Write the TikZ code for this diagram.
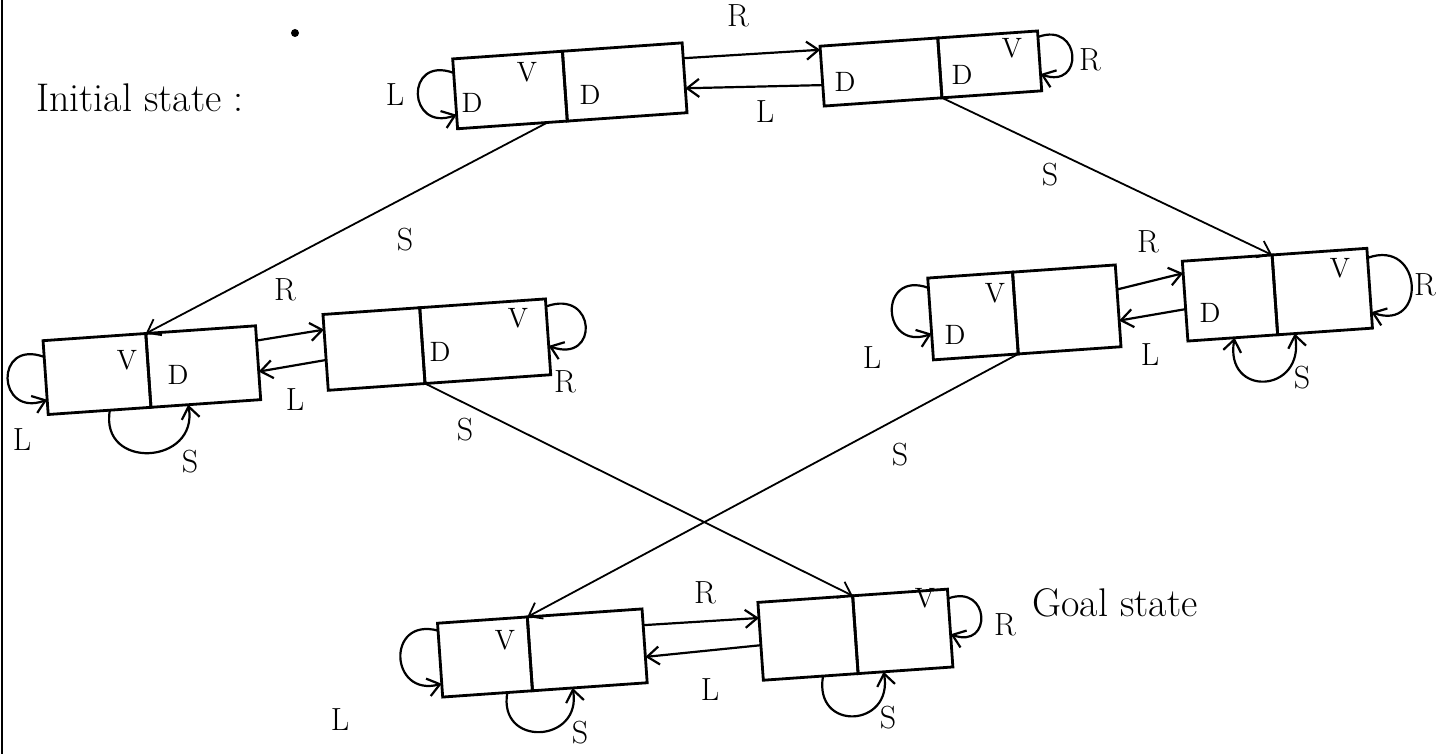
\documentclass[tikz,border=0pt]{standalone}
\usetikzlibrary{arrows.meta,calc}

\begin{document}
\begin{tikzpicture}[x=0.5pt,y=-0.5pt,
  cell/.style={draw, rectangle, line width=1.4pt, minimum height=37pt, rotate=4, inner sep=0pt, outer sep=0pt},
  arr/.style={line width=1.1pt, -{Straight Barb[length=6pt,width=9pt]}},
  both/.style={line width=1.1pt, {Straight Barb[length=6pt,width=9pt]}-{Straight Barb[length=6pt,width=9pt]}},
  tag/.style={font=\fontsize{14}{14}\selectfont},
  lbl/.style={font=\fontsize{16}{16}\selectfont},
  title/.style={font=\fontsize{20}{20}\selectfont}]

\useasboundingbox (0,0) rectangle (1453,754);

\draw[line width=1pt] (2,0) -- (2,754);
\fill (295,33) circle (2pt);

\node[title] (init) at (140,98) {Initial state :};
\node[title] (goal) at (1115,603) {Goal state};

%% states: two cells each
\node[cell, minimum width=55pt, minimum height=35pt] (Al) at (510,90) {};
\node[cell, minimum width=60pt, minimum height=35pt, anchor=west] (Ar) at (Al.east) {};

\node[cell, minimum width=59pt, minimum height=30pt] (Bl) at (881,72) {};
\node[cell, minimum width=50pt, minimum height=30pt, anchor=west] (Br) at (Bl.east) {};

\node[cell, minimum width=51.5pt] (Cl) at (97,374) {};
\node[cell, minimum width=55pt, anchor=west] (Cr) at (Cl.east) {};

\node[cell, minimum width=48.5pt, minimum height=38pt] (El) at (374,349) {};
\node[cell, minimum width=63pt, minimum height=38pt, anchor=west] (Er) at (El.east) {};

\node[cell, minimum width=42.5pt, minimum height=41pt] (Fl) at (973,316) {};
\node[cell, minimum width=51.5pt, minimum height=41pt, anchor=west] (Fr) at (Fl.east) {};

\node[cell, minimum width=45pt, minimum height=40pt] (Gl) at (1230,298) {};
\node[cell, minimum width=47.5pt, minimum height=40pt, anchor=west] (Gr) at (Gl.east) {};

\node[cell, minimum width=45pt] (Il) at (485,657) {};
\node[cell, minimum width=57.5pt, anchor=west] (Ir) at (Il.east) {};

\node[cell, minimum width=47.5pt, minimum height=39pt] (Jl) at (808,638) {};
\node[cell, minimum width=47.5pt, minimum height=39pt, anchor=west] (Jr) at (Jl.east) {};

%% dirt and vacuum marks
\node[tag] (Ad1) at (472,103) {D};
\node[tag] (Av)  at (527,72) {V};
\node[tag] (Ad2) at (590,95) {D};
\node[tag] (Bd1) at (845,82) {D};
\node[tag] (Bd2) at (962,75) {D};
\node[tag] (Bv)  at (1012,48) {V};
\node[tag] (Cv)  at (127,360) {V};
\node[tag] (Cd)  at (178,375) {D};
\node[tag] (Ed)  at (440,352) {D};
\node[tag] (Ev)  at (518,318) {V};
\node[tag] (Fv)  at (995,293) {V};
\node[tag] (Fd)  at (955,335) {D};
\node[tag] (Gd)  at (1210,313) {D};
\node[tag] (Gv)  at (1340,268) {V};
\node[tag] (Iv)  at (505,640) {V};
\node[tag] (Jv)  at (925,598) {V};

%% R / L between cells
\draw[arr] ($(Ar.north east)!0.22!(Ar.south east)$) -- ($(Bl.north west)!0.06!(Bl.south west)$);
\draw[arr] ($(Bl.north west)!0.65!(Bl.south west)$) -- ($(Ar.north east)!0.65!(Ar.south east)$);
\node[lbl] (ABr) at (738,16) {R};
\node[lbl] (ABl) at (765,112) {L};

\draw[arr] ($(Cr.north east)!0.2!(Cr.south east)$) -- ($(El.north west)!0.2!(El.south west)$);
\draw[arr] ($(El.north west)!0.6!(El.south west)$) -- ($(Cr.north east)!0.62!(Cr.south east)$);
\node[lbl] (CEr) at (285,290) {R};
\node[lbl] (CEl) at (295,400) {L};

\draw[arr] ($(Fr.north east)!0.3!(Fr.south east)$) -- ($(Gl.north west)!0.15!(Gl.south west)$);
\draw[arr] ($(Gl.north west)!0.6!(Gl.south west)$) -- ($(Fr.north east)!0.68!(Fr.south east)$);
\node[lbl] (FGr) at (1148,242) {R};
\node[lbl] (FGl) at (1150,355) {L};

\draw[arr] ($(Ir.north east)!0.22!(Ir.south east)$) -- ($(Jl.north west)!0.2!(Jl.south west)$);
\draw[arr] ($(Jl.north west)!0.55!(Jl.south west)$) -- ($(Ir.north east)!0.65!(Ir.south east)$);
\node[lbl] (IJr) at (705,593) {R};
\node[lbl] (IJl) at (710,690) {L};

%% L loops
\draw[arr] ($(Al.north west)!0.2!(Al.south west)$) to[out=160,in=200,looseness=3.2] ($(Al.north west)!0.8!(Al.south west)$);
\node[lbl] (Aloop) at (395,95) {L};
\draw[arr] ($(Cl.north west)!0.22!(Cl.south west)$) to[out=160,in=200,looseness=3.2] ($(Cl.north west)!0.8!(Cl.south west)$);
\node[lbl] (Cloop) at (22,440) {L};
\draw[arr] ($(Fl.north west)!0.12!(Fl.south west)$) to[out=160,in=200,looseness=3] ($(Fl.north west)!0.68!(Fl.south west)$);
\node[lbl] (Floop) at (872,358) {L};
\draw[arr] ($(Il.north west)!0.1!(Il.south west)$) to[out=165,in=195,looseness=2.6] ($(Il.north west)!0.82!(Il.south west)$);
\node[lbl] (Iloop) at (340,720) {L};

%% R loops
\draw[arr] ($(Br.north east)!0.1!(Br.south east)$) to[out=20,in=340,looseness=3.2] ($(Br.north east)!0.72!(Br.south east)$);
\node[lbl] (Bloop) at (1090,60) {R};
\draw[arr] ($(Er.north east)!0.1!(Er.south east)$) to[out=20,in=340,looseness=3.5] ($(Er.north east)!0.62!(Er.south east)$);
\node[lbl] (Eloop) at (565,382) {R};
\draw[arr] ($(Gr.north east)!0.12!(Gr.south east)$) to[out=20,in=340,looseness=2.8] ($(Gr.north east)!0.8!(Gr.south east)$);
\node[lbl] (Gloop) at (1425,285) {R};
\draw[arr] ($(Jr.north east)!0.12!(Jr.south east)$) to[out=20,in=340,looseness=3.2] ($(Jr.north east)!0.58!(Jr.south east)$);
\node[lbl] (Jloop) at (1005,625) {R};

%% S loops
\draw[arr] ($(Cl.south west)!0.6!(Cl.south east)$) to[out=260,in=280,looseness=2] ($(Cr.south west)!0.34!(Cr.south east)$);
\node[lbl] (Csuck) at (190,462) {S};
\draw[both] ($(Gl.south west)!0.52!(Gl.south east)$) to[out=260,in=280,looseness=2.6] ($(Gr.south west)!0.18!(Gr.south east)$);
\node[lbl] (Gsuck) at (1302,378) {S};
\draw[arr] ($(Il.south west)!0.72!(Il.south east)$) to[out=260,in=280,looseness=2.2] ($(Ir.south west)!0.35!(Ir.south east)$);
\node[lbl] (Isuck) at (580,733) {S};
\draw[arr] ($(Jl.south west)!0.63!(Jl.south east)$) to[out=260,in=280,looseness=2.4] ($(Jr.south west)!0.27!(Jr.south east)$);
\node[lbl] (Jsuck) at (888,718) {S};

%% S between states
\draw[arr, line width=0.9pt] ($(Al.south east)!0.18!(Al.south west)$) -- (Cl.north east);
\node[lbl] (ACs) at (405,240) {S};
\draw[arr, line width=0.9pt] (Bl.south east) -- (Gl.north east);
\node[lbl] (BGs) at (1050,175) {S};
\draw[arr, line width=0.9pt] (El.south east) -- (Jl.north east);
\node[lbl] (EJs) at (465,430) {S};
\draw[arr, line width=0.9pt] (Fl.south east) -- (Il.north east);
\node[lbl] (FIs) at (900,455) {S};

\end{tikzpicture}
\end{document}
